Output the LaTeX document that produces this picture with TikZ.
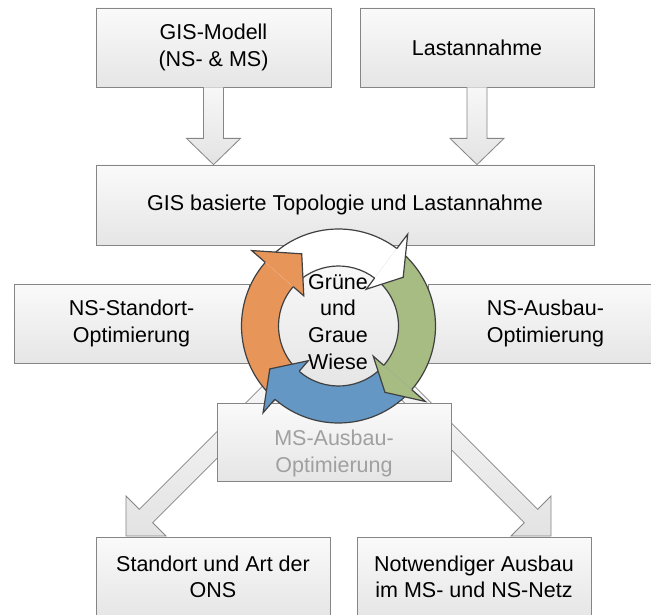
\documentclass[tikz,border=0pt]{standalone}
\usepackage{fontspec}
\setmainfont{Liberation Sans}
\usetikzlibrary{calc}
\definecolor{boxline}{HTML}{858585}
\definecolor{ringline}{HTML}{404040}
\definecolor{arrOrange}{HTML}{E8955A}
\definecolor{arrGreen}{HTML}{A6BC82}
\definecolor{arrBlue}{HTML}{6497C4}
\definecolor{msgray}{HTML}{A0A0A0}
\tikzset{
  box/.style={draw=boxline, line width=0.8pt, top color=white!98!black, bottom color=white!90!black,
    minimum width=235pt, minimum height=79pt, align=center, inner sep=0pt,
    font=\fontsize{21.5}{26.5}\selectfont},
  blockarrow/.style={draw=boxline, line width=0.8pt, line join=miter, top color=white!97!black, bottom color=white!89!black},
  ringedge/.style={draw=ringline, line width=1.2pt, line join=miter},
  txt/.style={align=center, inner sep=0pt, font=\fontsize{21.5}{26.7}\selectfont},
}
\begin{document}
\begin{tikzpicture}[x=1pt,y=-1pt]
\useasboundingbox (0,0) rectangle (651,615);
\clip (0,0) rectangle (651,615);
\fill[white] (0,0) rectangle (651,615);

% top boxes
\node[box] (gis) at (213.5,47.5) {GIS-Modell\\(NS- \& MS)};
\node[box, minimum width=234pt] (last) at (477,47.5) {Lastannahme};
\node[box, minimum width=498pt, minimum height=80pt] (topo) at (345,205) {GIS basierte Topologie und Lastannahme};

% down arrows
\path[blockarrow] ($(gis.south)+(-10,0)$) -- ($(gis.south)+(-10,51)$) -- ($(gis.south)+(-27,51)$)
  -- (gis.south |- topo.north) -- ($(gis.south)+(27,51)$) -- ($(gis.south)+(10,51)$) -- ($(gis.south)+(10,0)$);
\path[blockarrow] ($(last.south)+(-10,0)$) -- ($(last.south)+(-10,51)$) -- ($(last.south)+(-27,51)$)
  -- (last.south |- topo.north) -- ($(last.south)+(27,51)$) -- ($(last.south)+(10,51)$) -- ($(last.south)+(10,0)$);

% side band boxes
\node[box] (nsstand) at (131.5,323.5) {NS-Standort-\\Optimierung};
\node[box] (nsaus) at (545.5,323.5) {NS-Ausbau-\\Optimierung};

% ring centre
\coordinate (C) at (338.5,326);
\coordinate (tipL) at (126,536);
\coordinate (tipR) at (551,536);

% diagonal block arrows
\path[blockarrow] (275.3,373.3) -- (139.3,509.3) -- (126,496) -- (tipL) -- (166,536) -- (152.7,522.7) -- (288.7,386.7) -- cycle;
\path[blockarrow] (401.7,373.3) -- (537.7,509.3) -- (551,496) -- (tipR) -- (511,536) -- (524.3,522.7) -- (388.3,386.7) -- cycle;

% lower boxes
\node[box, minimum width=234pt, minimum height=78pt] (ms) at (334,442) {};
\node[txt, text=msgray] (mstext) at (334,453.5) {MS-Ausbau-\\Optimierung};
\node[box, minimum width=234pt, minimum height=80pt] (ons) at (213,577) {Standort und Art der\\ONS};
\node[box, minimum width=234pt, minimum height=80pt] (ausbau) at (474,577) {Notwendiger Ausbau\\im MS- und NS-Netz};

% cycle ring
\begin{scope}[shift={(C)}, x=1pt, y=1pt]
  \path[top color=white!97!black, bottom color=white!90!black] (0,0) circle[radius=61];
  \foreach \a/\b/\c/\col in {229/139/117/arrOrange, 139/53/37/white, 53/-41/-55/arrGreen, -41/-131/-148/arrBlue} {
    \fill[\col] (\a:97) arc[start angle=\a, end angle=\b-0.5, radius=97] -- (\b-0.5:60)
      arc[start angle=\b-0.5, end angle=\a, radius=60] -- cycle;
    \draw[ringedge] (\a:97) arc[start angle=\a, end angle=\b, radius=97];
    \draw[ringedge] (\b:60) arc[start angle=\b, end angle=\a, radius=60];
  }
  \foreach \a/\b/\c/\col in {229/139/117/arrOrange, 139/53/37/white, 53/-41/-55/arrGreen, -41/-131/-148/arrBlue} {
    \fill[\col] (\b:115) -- (\c:81) -- (\b:46) -- cycle;
    \draw[ringedge] (\b:97) -- (\b:115) -- (\c:81) -- (\b:46) -- (\b:60);
  }
\end{scope}
\node[txt] (wiese) at (338,321.7) {Grüne\\und\\Graue\\Wiese};
\end{tikzpicture}
\end{document}
